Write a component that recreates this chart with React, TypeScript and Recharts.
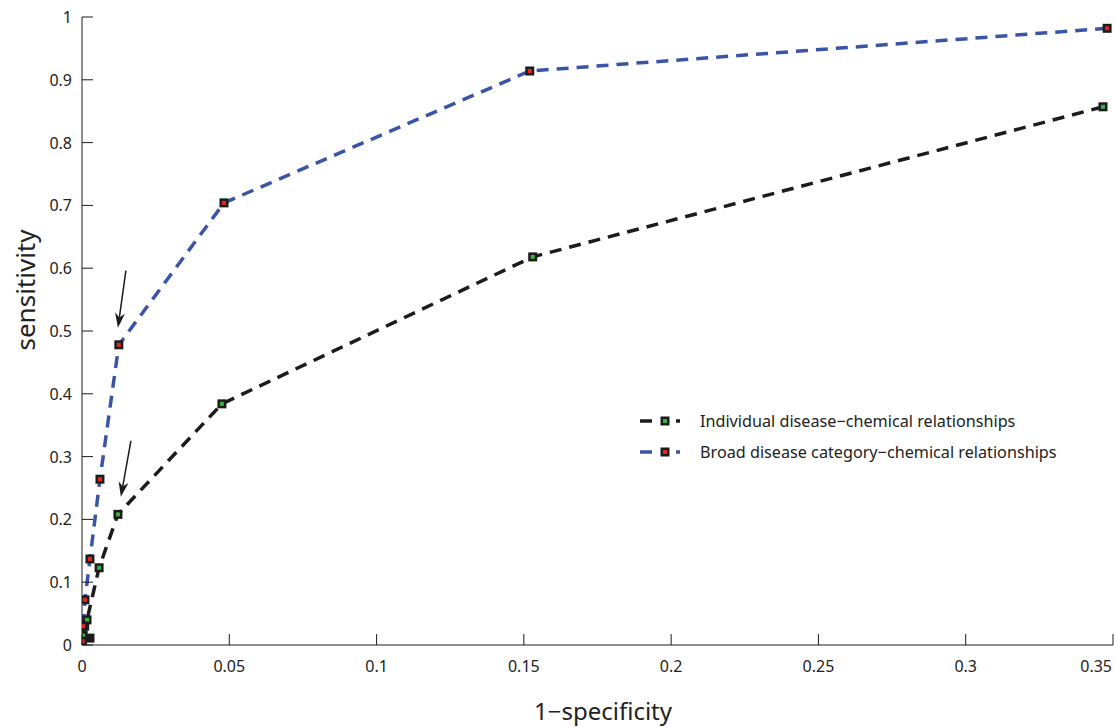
import React from 'react';
import { ComposedChart, Line, XAxis, YAxis, Legend, ReferenceLine, Scatter } from 'recharts';

const xTicks = [0, 0.05, 0.1, 0.15, 0.2, 0.25, 0.3, 0.35];
const xTickLabels = ['0', '0.05', '0.1', '0.15', '0.2', '0.25', '0.3', '0.35'];
const yTicks = [0, 0.1, 0.2, 0.3, 0.4, 0.5, 0.6, 0.7, 0.8, 0.9, 1];
const yTickLabels = ['0', '0.1', '0.2', '0.3', '0.4', '0.5', '0.6', '0.7', '0.8', '0.9', '1'];

const seriesNames = ['Individual disease\u2212chemical relationships', 'Broad disease category\u2212chemical relationships'];

const individualX = [0.3466, 0.153, 0.0475, 0.0122, 0.0058, 0.0017, 0.0009, 0.0004, 0];
const individualY = [0.857, 0.618, 0.384, 0.208, 0.123, 0.04, 0.03, 0.015, 0];

const broadX = [0.348, 0.152, 0.0482, 0.0125, 0.0061, 0.0027, 0.001, 0.0004, 0.0002];
const broadY = [0.982, 0.914, 0.704, 0.478, 0.264, 0.137, 0.072, 0.03, 0.006];

const extraX = [0.0027];
const extraY = [0.011];

// arrow annotations: start (x, y) -> tip (x, y)
const arrowStartX = [0.0149, 0.0166];
const arrowStartY = [0.596, 0.325];
const arrowTipX = [0.0122, 0.0132];
const arrowTipY = [0.505, 0.236];

const individualData = individualX.map((x, i) => ({ x, y: individualY[i] }));
const broadData = broadX.map((x, i) => ({ x, y: broadY[i] }));
const extraData = extraX.map((x, i) => ({ x, y: extraY[i] }));

const BLACK = '#1c1c1c';
const BLUE = '#3a55a6';
const GREEN = '#3cb043';
const RED = '#e8251f';
const FONT = '"Noto Sans", sans-serif';
const TICK_LEN = 11;

const Square = ({ cx, cy, fill }: any) => (
  <g>
    <rect x={cx - 4.5} y={cy - 4.5} width={9} height={9} fill={BLACK} />
    <rect x={cx - 2} y={cy - 2} width={4} height={4} fill={fill} />
  </g>
);

const LeftTick = (props: any) => {
  const { x, y, index } = props;
  return (
    <g>
      <line x1={x} x2={x + TICK_LEN} y1={y} y2={y} stroke={BLACK} strokeWidth={1} />
      <text x={x - 10} y={y + 6} textAnchor="end" fontSize={16} fontFamily={FONT} fill="#222">
        {yTickLabels[index]}
      </text>
    </g>
  );
};

const BottomTick = (props: any) => {
  const { x, y, index } = props;
  const last = index === xTickLabels.length - 1;
  return (
    <g>
      <line x1={x} x2={x} y1={y} y2={y - TICK_LEN} stroke={BLACK} strokeWidth={1} />
      <text
        x={last ? x - 1 : x}
        y={y + 27}
        textAnchor={last ? 'end' : 'middle'}
        fontSize={16}
        fontFamily={FONT}
        fill="#222"
      >
        {xTickLabels[index]}
      </text>
    </g>
  );
};

const RightTick = (props: any) => {
  const { x, y } = props;
  return <line x1={x} x2={x - TICK_LEN} y1={y} y2={y} stroke={BLACK} strokeWidth={1} />;
};

const TopTick = (props: any) => {
  const { x, y } = props;
  return <line x1={x} x2={x} y1={y} y2={y + TICK_LEN} stroke={BLACK} strokeWidth={1} />;
};

const Arrow = (props: any) => {
  const { x1, y1, x2, y2 } = props;
  const dx = x2 - x1;
  const dy = y2 - y1;
  const len = Math.sqrt(dx * dx + dy * dy);
  const ux = dx / len;
  const uy = dy / len;
  const px = -uy;
  const py = ux;
  const hl = 15;
  const hw = 5;
  const bx = x2 - ux * hl;
  const by = y2 - uy * hl;
  const nx = x2 - ux * hl * 0.7;
  const ny = y2 - uy * hl * 0.7;
  return (
    <g>
      <line x1={x1} y1={y1} x2={nx} y2={ny} stroke={BLACK} strokeWidth={1.5} />
      <polygon
        points={`${x2},${y2} ${bx + px * hw},${by + py * hw} ${nx},${ny} ${bx - px * hw},${by - py * hw}`}
        fill={BLACK}
      />
    </g>
  );
};

const LegendIcon = ({ color, fill }: any) => (
  <svg width={64} height={16} style={{ display: 'block' }}>
    <line x1={4} x2={16} y1={8} y2={8} stroke={color} strokeWidth={3.5} />
    <rect x={24.5} y={3.5} width={9} height={9} fill={BLACK} />
    <rect x={27} y={6} width={4} height={4} fill={fill} />
    <line x1={40} x2={44} y1={8} y2={8} stroke={color} strokeWidth={3.5} />
  </svg>
);

const LegendContent = () => (
  <div style={{ fontFamily: FONT, fontSize: 16.2, color: '#222', whiteSpace: 'nowrap' }}>
    <div style={{ display: 'flex', alignItems: 'center', height: 31 }}>
      <LegendIcon color={BLACK} fill={GREEN} />
      <span>{seriesNames[0]}</span>
    </div>
    <div style={{ display: 'flex', alignItems: 'center', height: 31 }}>
      <LegendIcon color={BLUE} fill={RED} />
      <span>{seriesNames[1]}</span>
    </div>
  </div>
);

export default function App() {
  return (
    <div style={{ position: 'absolute', left: 0, top: 0, background: '#fff' }}>
      <ComposedChart
        width={1114}
        height={727}
        margin={{ top: 17, right: 1, bottom: 0, left: 0 }}
      >
        <XAxis
          dataKey="x"
          type="number"
          domain={[0, 0.35]}
          ticks={xTicks}
          allowDataOverflow
          height={82}
          tickSize={0}
          tickMargin={0}
          tickLine={false}
          axisLine={{ stroke: BLACK, strokeWidth: 1 }}
          tick={(p: any) => <BottomTick {...p} />}
          interval={0}
          label={{
            content: (p: any) => {
              const vb = p.viewBox;
              return (
                <text x={603} y={vb.y + 75} textAnchor="middle" fontSize={24} fontFamily={FONT} fill="#222">
                  1{'\u2212'}specificity
                </text>
              );
            },
          }}
        />
        <XAxis
          xAxisId="top"
          orientation="top"
          dataKey="x"
          type="number"
          domain={[0, 0.35]}
          ticks={xTicks}
          allowDataOverflow
          height={0}
          tickSize={0}
          tickMargin={0}
          tickLine={false}
          axisLine={{ stroke: BLACK, strokeWidth: 1 }}
          tick={(p: any) => <TopTick {...p} />}
          interval={0}
        />
        <YAxis
          type="number"
          domain={[0, 1]}
          ticks={yTicks}
          allowDataOverflow
          width={82}
          tickSize={0}
          tickMargin={0}
          tickLine={false}
          axisLine={{ stroke: BLACK, strokeWidth: 1 }}
          tick={(p: any) => <LeftTick {...p} />}
          interval={0}
          label={{
            content: () => {
              const cy = 290;
              return (
                <text
                  x={35}
                  y={cy}
                  transform={`rotate(-90, 35, ${cy})`}
                  textAnchor="middle"
                  fontSize={26}
                  fontFamily={FONT}
                  fill="#222"
                >
                  sensitivity
                </text>
              );
            },
          }}
        />
        <YAxis
          yAxisId="right"
          orientation="right"
          type="number"
          domain={[0, 1]}
          ticks={yTicks}
          allowDataOverflow
          width={0}
          tickSize={0}
          tickMargin={0}
          tickLine={false}
          axisLine={{ stroke: BLACK, strokeWidth: 1 }}
          tick={(p: any) => <RightTick {...p} />}
          interval={0}
        />
        <Line
          data={individualData}
          dataKey="y"
          type="linear"
          stroke={BLACK}
          strokeWidth={3.5}
          strokeDasharray="12 8"
          isAnimationActive={false}
          dot={(p: any) => <Square key={`i${p.index}`} cx={p.cx} cy={p.cy} fill={GREEN} />}
          activeDot={false}
          legendType="none"
        />
        <Line
          data={broadData}
          dataKey="y"
          type="linear"
          stroke={BLUE}
          strokeWidth={3.5}
          strokeDasharray="12 8"
          isAnimationActive={false}
          dot={(p: any) => <Square key={`b${p.index}`} cx={p.cx} cy={p.cy} fill={RED} />}
          activeDot={false}
          legendType="none"
        />
        <Scatter
          data={extraData}
          dataKey="y"
          isAnimationActive={false}
          shape={(p: any) => <Square cx={p.cx} cy={p.cy} fill={BLACK} />}
          legendType="none"
        />
        {arrowStartX.map((sx, i) => (
          <ReferenceLine
            key={`a${i}`}
            segment={[
              { x: sx, y: arrowStartY[i] },
              { x: arrowTipX[i], y: arrowTipY[i] },
            ]}
            ifOverflow="visible"
            shape={(p: any) => <Arrow {...p} />}
          />
        ))}
        <Legend
          layout="vertical"
          align="center"
          verticalAlign="middle"
          content={() => <LegendContent />}
          wrapperStyle={{ position: 'absolute', left: 636, top: 405, width: 'auto', bottom: 'auto' }}
        />
      </ComposedChart>
    </div>
  );
}
